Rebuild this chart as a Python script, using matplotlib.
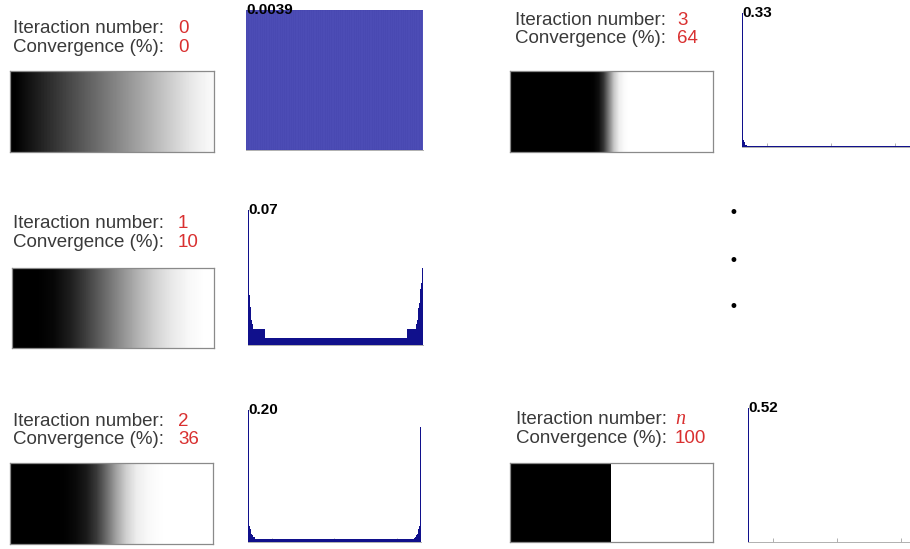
import matplotlib
matplotlib.use("Agg")
import matplotlib.pyplot as plt
from matplotlib import font_manager
import numpy as np

W, H = 910, 549

# ---------------- data ----------------
iterations = ["0", "1", "2", "3", "n"]
convergence = ["0", "10", "36", "64", "100"]
hist_max_labels = ["0.0039", "0.07", "0.20", "0.33", "0.52"]

# gray-level profiles of the strips (0 = black, 1 = white), left to right
profile0 = [0.00, 0.05, 0.10, 0.15, 0.20, 0.25, 0.30, 0.35, 0.40, 0.45, 0.50,
            0.55, 0.60, 0.65, 0.70, 0.75, 0.80, 0.85, 0.90, 0.94, 0.97]
profile1 = [0.00, 0.00, 0.03, 0.12, 0.26, 0.41, 0.56, 0.70, 0.82, 0.91, 0.97, 1.00]
profile2 = [0.00, 0.00, 0.00, 0.00, 0.00, 0.01, 0.04, 0.10, 0.22, 0.42,
            0.64, 0.82, 0.93, 0.97, 0.99, 1.00, 1.00, 1.00, 1.00, 1.00]
profile3 = [0.00, 0.00, 0.00, 0.00, 0.00, 0.00, 0.00, 0.00, 0.00, 0.00,
            0.00, 0.00, 0.00, 0.00, 0.00, 0.00, 0.01, 0.06, 0.22, 0.50,
            0.78, 0.93, 0.98, 1.00, 1.00, 1.00, 1.00, 1.00, 1.00, 1.00,
            1.00, 1.00, 1.00, 1.00, 1.00, 1.00, 1.00, 1.00, 1.00, 1.00]
profilen = [0.0, 1.0]

# histograms of gray levels (256 bins): left edge, middle level, right edge
hist0_left, hist0_mid, hist0_right = [], 0.0039, []
hist1_left = [0.070, 0.032, 0.026, 0.0195, 0.016, 0.013, 0.011,
              0.0085, 0.0085, 0.0085, 0.0085, 0.0085, 0.0085, 0.0085, 0.0085,
              0.0085, 0.0085, 0.0085, 0.0085, 0.0085, 0.0085, 0.0085, 0.0085,
              0.0085, 0.0085]
hist1_mid = 0.0034
hist1_right = [0.0085, 0.0085, 0.0085, 0.0085, 0.0085, 0.0085, 0.0085,
               0.0085, 0.0085, 0.0085, 0.0085, 0.0085, 0.0085, 0.0085,
               0.011, 0.013, 0.016, 0.019, 0.022, 0.025, 0.029, 0.032, 0.036, 0.040]
hist2_left = [0.20, 0.028, 0.024, 0.019, 0.015, 0.012, 0.010, 0.009, 0.008, 0.007, 0.006]
hist2_mid = 0.0045
hist2_right = [0.006, 0.007, 0.008, 0.010, 0.012, 0.015, 0.019, 0.024, 0.030, 0.174]
hist3_left = [0.33, 0.025, 0.018, 0.012, 0.008, 0.006, 0.005]
hist3_mid = 0.0035
hist3_right = [0.005, 0.006, 0.008, 0.012, 0.018, 0.025, 0.31]
histn_left, histn_mid, histn_right = [0.52], 0.0, [0.48]

N_BINS = 256

# ---------------- helpers ----------------
fig = plt.figure(figsize=(W / 100, H / 100), dpi=100)
fig.patch.set_facecolor("white")

names = [f.name for f in font_manager.fontManager.ttflist]
LABEL_FONT = "Liberation Sans Narrow" if "Liberation Sans Narrow" in names else "Liberation Sans"
LABEL_SIZE = 16 if LABEL_FONT == "Liberation Sans Narrow" else 13.5

GRAY_TXT = "#3a3a3a"
RED_TXT = "#d93030"


def add_ax(x0, y0, x1, y1):
    return fig.add_axes([x0 / W, 1 - y1 / H, (x1 - x0) / W, (y1 - y0) / H])


def build_hist(left, mid, right):
    n_mid = N_BINS - len(left) - len(right)
    return np.array(list(left) + [mid] * n_mid + list(right))


def draw_text(x, y1, y2, xv, it, conv):
    fig.text(x / W, 1 - y1 / H, "Iteraction number:", family=LABEL_FONT,
             fontsize=LABEL_SIZE, color=GRAY_TXT, va="baseline")
    fig.text(x / W, 1 - y2 / H, "Convergence (%):", family=LABEL_FONT,
             fontsize=LABEL_SIZE, color=GRAY_TXT, va="baseline")
    if it == "n":
        fig.text(xv / W, 1 - y1 / H, "n", family="Liberation Serif", style="italic",
                 fontsize=LABEL_SIZE + 1, color=RED_TXT, va="baseline")
    else:
        fig.text(xv / W, 1 - y1 / H, it, family=LABEL_FONT,
                 fontsize=LABEL_SIZE, color=RED_TXT, va="baseline")
    fig.text(xv / W, 1 - y2 / H, conv, family=LABEL_FONT,
             fontsize=LABEL_SIZE, color=RED_TXT, va="baseline")


def draw_strip(box, profile, interp):
    ax = add_ax(*box)
    ax.imshow(np.array([profile]), cmap="gray", vmin=0, vmax=1, aspect="auto",
              interpolation=interp, extent=[0, 1, 0, 1])
    ax.set_xticks([])
    ax.set_yticks([])
    for s in ax.spines.values():
        s.set_color("#8a8a8a")
        s.set_linewidth(0.9)


def draw_hist(box, values, label, face, edge, elw):
    ax = add_ax(*box)
    x = np.arange(N_BINS)
    ax.bar(x, values, width=1.0, align="edge", color=face,
           edgecolor=edge, linewidth=elw, zorder=3)
    ax.set_xlim(0, N_BINS)
    ax.set_ylim(0, max(values))
    ax.set_facecolor("none")
    for s in ["left", "right", "top"]:
        ax.spines[s].set_visible(False)
    ax.spines["bottom"].set_color("#b0b0b0")
    ax.spines["bottom"].set_linewidth(0.7)
    ax.spines["bottom"].set_zorder(1)
    ax.set_xticks([36, 128, 220])
    ax.set_xticklabels([])
    ax.tick_params(axis="x", direction="in", length=3, color="#b0b0b0", width=0.7)
    ax.set_axisbelow(True)
    ax.set_yticks([])
    ax.text(0.0, 1.0, label, transform=ax.transAxes, ha="left", va="center",
            family="Liberation Sans", fontweight="bold", fontsize=11, color="black",
            clip_on=False, zorder=5)
    return ax


# ---------------- panels ----------------
# iteration 0
draw_text(13, 33, 52, 178, iterations[0], convergence[0])
draw_strip((10, 71, 214, 152), profile0, "bilinear")
draw_hist((246, 10, 423, 150), build_hist(hist0_left, hist0_mid, hist0_right),
          hist_max_labels[0], "#5858be", "#2a2a9c", 0.12)

# iteration 1
draw_text(13, 228, 247, 178, iterations[1], convergence[1])
draw_strip((12, 268, 214, 348), profile1, "bilinear")
draw_hist((248, 210, 423, 345), build_hist(hist1_left, hist1_mid, hist1_right),
          hist_max_labels[1], "#10108c", "#10108c", 0.0)

# iteration 2
draw_text(13, 426, 444, 178, iterations[2], convergence[2])
draw_strip((10, 463, 213, 544), profile2, "bilinear")
draw_hist((248, 410, 421, 542), build_hist(hist2_left, hist2_mid, hist2_right),
          hist_max_labels[2], "#10108c", "#10108c", 0.0)

# iteration 3
draw_text(515, 25, 43, 677, iterations[3], convergence[3])
draw_strip((510, 71, 713, 152), profile3, "bilinear")
draw_hist((742, 13, 920, 147), build_hist(hist3_left, hist3_mid, hist3_right),
          hist_max_labels[3], "#10108c", "#10108c", 0.0)

# iteration n
draw_text(516, 424, 443, 675, iterations[4], convergence[4])
draw_strip((510, 463, 713, 542), profilen, "nearest")
draw_hist((748, 408, 926, 542), build_hist(histn_left, histn_mid, histn_right),
          hist_max_labels[4], "#10108c", "#10108c", 0.0)

# ellipsis dots
dots_y = [213, 261, 307]
for yy in dots_y:
    fig.text(733 / W, 1 - yy / H, "\u2022", ha="center", va="center",
             fontsize=12, color="black", family="DejaVu Sans")

fig.savefig("out.png", dpi=100, facecolor="white")
